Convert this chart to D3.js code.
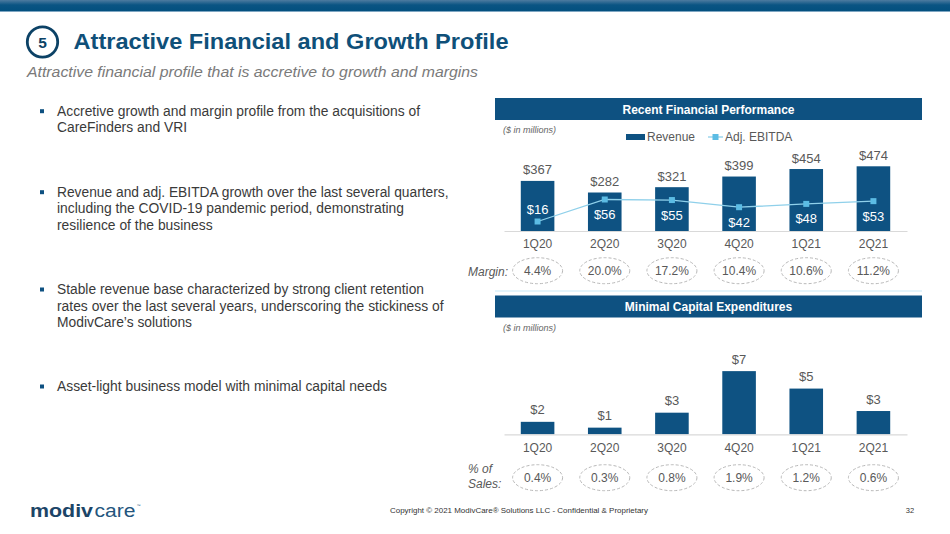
<!DOCTYPE html>
<html>
<head>
<meta charset="utf-8">
<script src="https://cdn.jsdelivr.net/npm/d3@7/dist/d3.min.js"></script>
<style>
  html, body { margin: 0; padding: 0; background: #fff; }
  svg { display: block; font-family: "Liberation Sans", Arial, sans-serif; }
</style>
</head>
<body>
<svg id="chart" width="950" height="534"></svg>
<script>
// ---------- DATA ----------
const quarters = ["1Q20", "2Q20", "3Q20", "4Q20", "1Q21", "2Q21"];
const revenue = [367, 282, 321, 399, 454, 474];
const ebitda = [16, 56, 55, 42, 48, 53];
const marginLabels = ["4.4%", "20.0%", "17.2%", "10.4%", "10.6%", "11.2%"];
const capex = [1.5, 0.8, 2.6, 7.6, 5.5, 2.8];
const capexLabels = ["$2", "$1", "$3", "$7", "$5", "$3"];
const capexPctLabels = ["0.4%", "0.3%", "0.8%", "1.9%", "1.2%", "0.6%"];
const bullets = [
  ["Accretive growth and margin profile from the acquisitions of", "CareFinders and VRI"],
  ["Revenue and adj. EBITDA growth over the last several quarters,", "including the COVID-19 pandemic period, demonstrating", "resilience of the business"],
  ["Stable revenue base characterized by strong client retention", "rates over the last several years, underscoring the stickiness of", "ModivCare\u2019s solutions"],
  ["Asset-light business model with minimal capital needs"]
];

// ---------- SETUP ----------
const svg = d3.select("#chart");
const NAVY = "#0e5181";
const BAR = "#0e5282";
const LINE = "#8fd0ea";
const MARK = "#5cbce4";
const GRAY = "#595959";

const defs = svg.append("defs");
const grad = defs.append("linearGradient").attr("id", "topband").attr("x1", 0).attr("y1", 0).attr("x2", 0).attr("y2", 1);
grad.append("stop").attr("offset", "0%").attr("stop-color", "#4d7ba0");
grad.append("stop").attr("offset", "45%").attr("stop-color", "#0a5483");
grad.append("stop").attr("offset", "100%").attr("stop-color", "#03507f");

// top band
svg.append("rect").attr("x", 0).attr("y", 0).attr("width", 950).attr("height", 11).attr("fill", "url(#topband)");
svg.append("rect").attr("x", 0).attr("y", 11).attr("width", 950).attr("height", 1).attr("fill", "#7ea6c2");

// numbered circle + title
svg.append("circle").attr("cx", 42.5).attr("cy", 42).attr("r", 15.2)
  .attr("fill", "none").attr("stroke", "#0c4266").attr("stroke-width", 2.8);
svg.append("text").attr("x", 42.5).attr("y", 48).attr("text-anchor", "middle")
  .attr("font-size", 15.5).attr("font-weight", "bold").attr("fill", "#0c4266").text("5");
svg.append("text").attr("x", 73.5).attr("y", 48.5).attr("font-size", 22.5).attr("font-weight", "bold")
  .attr("fill", "#0f5079").attr("textLength", 435).attr("lengthAdjust", "spacingAndGlyphs")
  .text("Attractive Financial and Growth Profile");
svg.append("text").attr("x", 27).attr("y", 77).attr("font-size", 14).attr("font-style", "italic")
  .attr("fill", "#7a7a7a").attr("textLength", 451).attr("lengthAdjust", "spacingAndGlyphs")
  .text("Attractive financial profile that is accretive to growth and margins");

// bullets
const bulletTop = [115.7, 196.7, 294, 391];
const lineGap = 16.7;
const lineWidths = [[363, 130], [391.6, 347, 155.6], [367, 386.6, 135], [330]];
bullets.forEach((lines, i) => {
  svg.append("rect").attr("x", 40).attr("y", bulletTop[i] - 6.5).attr("width", 4).attr("height", 4).attr("fill", NAVY);
  lines.forEach((t, j) => {
    svg.append("text").attr("x", 57).attr("y", bulletTop[i] + j * lineGap)
      .attr("font-size", 13.8).attr("fill", "#3a3a3a")
      .attr("textLength", lineWidths[i][j]).attr("lengthAdjust", "spacingAndGlyphs").text(t);
  });
});

// ---------- SCALES ----------
const x = d3.scaleBand().domain(quarters).range([504, 907]).paddingInner(0.5).paddingOuter(0.25);
const cx = q => x(q) + x.bandwidth() / 2;
const yRev = d3.scaleLinear().domain([0, 500]).range([231, 162.75]);
const yEb = d3.scaleLinear().domain([0, 100]).range([230.3, 175.3]);
const yCap = d3.scaleLinear().domain([0, 8]).range([434.3, 367.8]);

function header(y, label) {
  svg.append("rect").attr("x", 495).attr("y", y).attr("width", 427).attr("height", 22).attr("fill", NAVY);
  svg.append("text").attr("x", 708.5).attr("y", y + 15.5).attr("text-anchor", "middle")
    .attr("font-size", 12).attr("font-weight", "bold").attr("fill", "#fff").text(label);
}
function unitNote(y) {
  svg.append("text").attr("x", 503).attr("y", y).attr("font-size", 9).attr("font-style", "italic")
    .attr("fill", "#666").text("($ in millions)");
}
function axis(y, pad) {
  const g = svg.append("g").attr("transform", `translate(0,${y})`)
    .call(d3.axisBottom(x).tickSize(0).tickPadding(pad));
  g.select(".domain").attr("stroke", "#d9d9d9").attr("stroke-width", 1.2);
  g.selectAll("text").attr("font-size", 12).attr("fill", GRAY)
    .attr("font-family", "'Liberation Sans', Arial, sans-serif");
}
function ovals(cy, labels) {
  const g = svg.append("g");
  g.selectAll("ellipse").data(quarters).join("ellipse")
    .attr("cx", d => cx(d)).attr("cy", cy).attr("rx", 25).attr("ry", 13)
    .attr("fill", "none").attr("stroke", "#b8b8b8").attr("stroke-width", 1).attr("stroke-dasharray", "3,2");
  g.selectAll("text").data(quarters).join("text")
    .attr("x", d => cx(d)).attr("y", cy + 4.3).attr("text-anchor", "middle")
    .attr("font-size", 12).attr("fill", GRAY).text((d, i) => labels[i]);
}

// ---------- TOP CHART ----------
header(98, "Recent Financial Performance");
unitNote(133);

// legend
svg.append("rect").attr("x", 626).attr("y", 134).attr("width", 19).attr("height", 6).attr("fill", BAR);
svg.append("text").attr("x", 647).attr("y", 141).attr("font-size", 12).attr("fill", GRAY).text("Revenue");
svg.append("line").attr("x1", 708).attr("x2", 723).attr("y1", 137).attr("y2", 137).attr("stroke", LINE).attr("stroke-width", 1.3);
svg.append("rect").attr("x", 712.5).attr("y", 134).attr("width", 6).attr("height", 6).attr("fill", MARK);
svg.append("text").attr("x", 725).attr("y", 141).attr("font-size", 12).attr("fill", GRAY).text("Adj. EBITDA");

svg.append("g").selectAll("rect").data(quarters).join("rect")
  .attr("x", d => x(d)).attr("width", x.bandwidth())
  .attr("y", (d, i) => yRev(revenue[i])).attr("height", (d, i) => yRev(0) - yRev(revenue[i]))
  .attr("fill", BAR);
svg.append("g").selectAll("text").data(quarters).join("text")
  .attr("x", d => cx(d)).attr("y", (d, i) => yRev(revenue[i]) - 6.5).attr("text-anchor", "middle")
  .attr("font-size", 13).attr("fill", GRAY).text((d, i) => "$" + revenue[i]);

axis(231, 8);

// EBITDA line
const line = d3.line().x((d, i) => cx(quarters[i])).y(d => yEb(d));
svg.append("path").datum(ebitda).attr("d", line).attr("fill", "none").attr("stroke", LINE).attr("stroke-width", 1.3);
svg.append("g").selectAll("rect").data(ebitda).join("rect")
  .attr("x", (d, i) => cx(quarters[i]) - 3).attr("y", d => yEb(d) - 3)
  .attr("width", 6).attr("height", 6).attr("fill", MARK);
svg.append("g").selectAll("text").data(ebitda).join("text")
  .attr("x", (d, i) => cx(quarters[i]))
  .attr("y", d => (yEb(d) + 22 > yRev(0)) ? yEb(d) - 8 : yEb(d) + 19.5)
  .attr("text-anchor", "middle").attr("font-size", 13).attr("fill", "#fff").text(d => "$" + d);

svg.append("text").attr("x", 468).attr("y", 275.5).attr("font-size", 12).attr("font-style", "italic")
  .attr("fill", GRAY).text("Margin:");
ovals(270.7, marginLabels);

svg.append("rect").attr("x", 495).attr("y", 290).attr("width", 427).attr("height", 2).attr("fill", "#e3f4fb");

// ---------- BOTTOM CHART ----------
header(295.5, "Minimal Capital Expenditures");
unitNote(331);

svg.append("g").selectAll("rect").data(quarters).join("rect")
  .attr("x", d => x(d)).attr("width", x.bandwidth())
  .attr("y", (d, i) => yCap(capex[i])).attr("height", (d, i) => yCap(0) - yCap(capex[i]))
  .attr("fill", BAR);
svg.append("g").selectAll("text").data(quarters).join("text")
  .attr("x", d => cx(d)).attr("y", (d, i) => yCap(capex[i]) - 7.5).attr("text-anchor", "middle")
  .attr("font-size", 13).attr("fill", GRAY).text((d, i) => capexLabels[i]);

axis(434.3, 9);

svg.append("text").attr("x", 468).attr("y", 473).attr("font-size", 12).attr("font-style", "italic")
  .attr("fill", GRAY).text("% of");
svg.append("text").attr("x", 468).attr("y", 488).attr("font-size", 12).attr("font-style", "italic")
  .attr("fill", GRAY).text("Sales:");
ovals(477.7, capexPctLabels);

// ---------- FOOTER ----------
svg.append("text").attr("x", 30).attr("y", 517).attr("font-size", 17.5).attr("font-weight", "bold")
  .attr("fill", "#1c4567").attr("textLength", 63).attr("lengthAdjust", "spacingAndGlyphs").text("modiv");
svg.append("text").attr("x", 94.5).attr("y", 517).attr("font-size", 17.5)
  .attr("fill", "#24557d").attr("textLength", 41).attr("lengthAdjust", "spacingAndGlyphs").text("care");
svg.append("text").attr("x", 136.5).attr("y", 507).attr("font-size", 4).attr("fill", "#24557d").text("™");

svg.append("text").attr("x", 519).attr("y", 513).attr("text-anchor", "middle").attr("font-size", 7.2)
  .attr("fill", "#333").attr("textLength", 258).attr("lengthAdjust", "spacingAndGlyphs")
  .text("Copyright \u00A9 2021 ModivCare\u00AE Solutions LLC - Confidential & Proprietary");
svg.append("text").attr("x", 910).attr("y", 513).attr("text-anchor", "middle").attr("font-size", 7.5)
  .attr("fill", "#333").text("32");
</script>
</body>
</html>
